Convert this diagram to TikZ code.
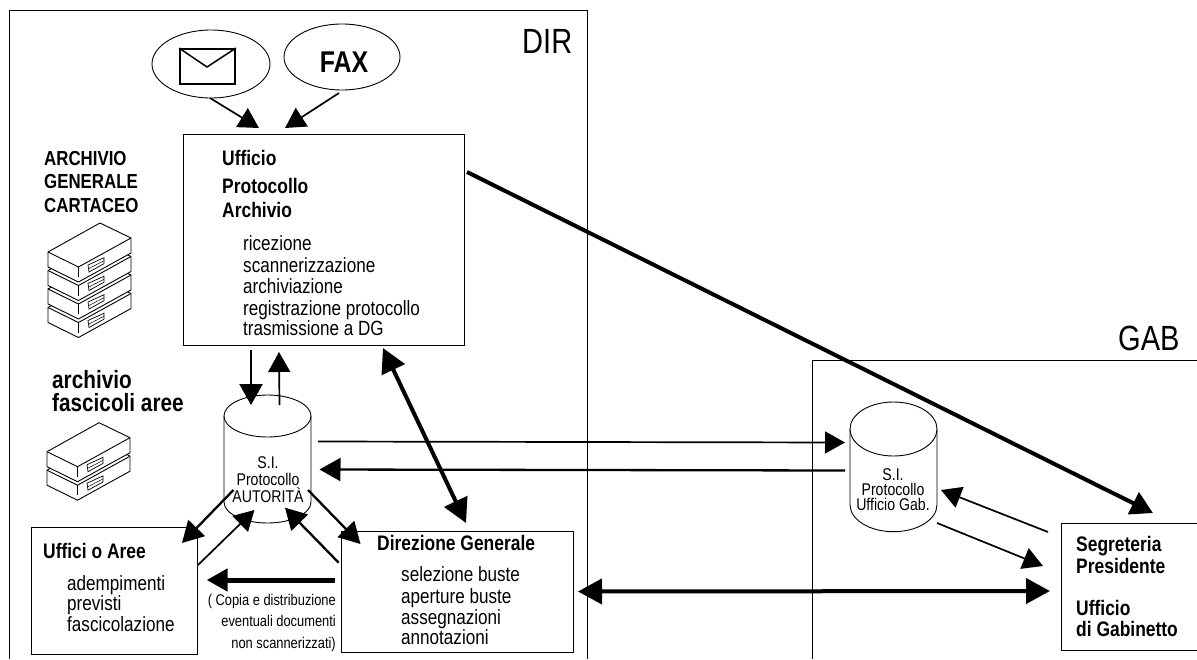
\documentclass[tikz,border=0pt]{standalone}
\usepackage{fontspec}
\setmainfont[FakeStretch=.83]{Liberation Sans}
\usetikzlibrary{arrows.meta,shapes.geometric}
\newcommand\srvunit[2]{%
  \begin{scope}[shift={(#1,#2)}]
    \draw[fill=white,line width=.9pt,line join=round] (0,0)--(0,15)--(30.5,30)--(83,1)--(83,-14)--(52,-29)--cycle;
    \draw[line width=.9pt,line join=round] (0,0)--(30.5,15)--(83,-14);
    \draw[line width=.9pt] (30.5,15)--(30.5,25);
    \draw[line width=.7pt,fill=white] (40,13)--(56,5.7)--(56,11.7)--(41,20)--cycle;
    \draw[line width=.5pt] (41,16.5)--(56,8.7);
  \end{scope}}
% centre x, top centre y, bottom centre y, y radius
\newcommand\cylshape[4]{%
  \draw[line width=.9pt,fill=white] (#1-43.5,#2) -- (#1-43.5,#3) arc[start angle=180,end angle=0,x radius=43.5,y radius=#4] -- (#1+43.5,#2);
  \draw[line width=.9pt,fill=white] (#1,#2) ellipse[x radius=43.5,y radius=#4];}
\tikzset{
  frame/.style={draw,line width=.9pt,inner sep=0,anchor=north west},
  oval/.style={draw,ellipse,line width=.9pt,inner sep=0},
  reg/.style={inner sep=0,anchor=base west,font=\fontsize{20.6}{24}\selectfont},
  hd/.style={inner sep=0,anchor=base west,font=\fontsize{21}{24}\selectfont\bfseries},
  hdb/.style={inner sep=0,anchor=base west,font=\fontsize{25}{26}\selectfont\bfseries},
  small/.style={inner sep=0,anchor=base,font=\fontsize{17}{20}\selectfont},
  note/.style={inner sep=0,anchor=base east,font=\fontsize{15.5}{18}\selectfont},
  big/.style={inner sep=0,anchor=base west,font=\fontsize{35}{38}\selectfont},
  thinar/.style={line width=1.7pt,-{Triangle[length=20pt,width=22pt]}},
  medar/.style={line width=2.3pt,-{Triangle[length=21pt,width=23pt]}},
  bigar/.style={line width=4pt,-{Triangle[length=22pt,width=24pt]}},
  bothar/.style={line width=4pt,{Triangle[length=24pt,width=25pt]}-{Triangle[length=24pt,width=25pt]}},
}
\begin{document}
\begin{tikzpicture}[x=1pt,y=-1pt]
\useasboundingbox (0,0) rectangle (1197,659);
\fill[white] (0,0) rectangle (1197,659);
% regions
\draw[line width=.9pt] (9.5,659)--(9.5,10)--(587,10)--(587,659);
\draw[line width=.9pt] (812,659)--(812,360)--(1197,360);
\node[big] (dirlab) at (522,53) {DIR};
\node[big] (gablab) at (1118,350) {GAB};
% sources
\node[oval,minimum width=118pt,minimum height=68pt] (mail) at (211,64) {};
\node[draw,line width=1.8pt,inner sep=0,minimum width=55pt,minimum height=35pt] (env) at (207.5,66.5) {};
\coordinate (flap) at (207,67);
\draw[line width=1.5pt] (env.north west)--(flap)--(env.north east);
\node[oval,minimum width=116pt,minimum height=66pt] (fax) at (342,57) {};
\node[inner sep=0,font=\fontsize{30}{32}\selectfont\bfseries] (faxt) at (344,62) {FAX};
% boxes
\node[frame,minimum width=281.5pt,minimum height=211pt] (uff) at (182.5,134) {};
\node[frame,minimum width=166.5pt,minimum height=127.5pt] (aree) at (30.6,526.7) {};
\node[frame,minimum width=232.5pt,minimum height=121pt] (dg) at (340.6,530.7) {};
\node[frame,minimum width=136pt,minimum height=127pt] (seg) at (1061,523) {};
% left archive labels
\node[hd,font=\fontsize{20.3}{24}\selectfont\bfseries] (a1) at (44,165) {ARCHIVIO};
\node[hd,font=\fontsize{20.3}{24}\selectfont\bfseries] (a2) at (44,188) {GENERALE};
\node[hd,font=\fontsize{20.3}{24}\selectfont\bfseries] (a3) at (44,212) {CARTACEO};
\srvunit{48}{307.5}\srvunit{48}{289}\srvunit{48}{270.5}\srvunit{48}{252}
\node[hdb] (b1) at (52,388) {archivio};
\node[hdb] (b2) at (52,411.7) {fascicoli aree};
\srvunit{47}{470.2}\srvunit{47}{451.7}
% ufficio text
\node[hd] (u1) at (222,165) {Ufficio};
\node[hd] (u2) at (222,193) {Protocollo};
\node[hd] (u3) at (222,217) {Archivio};
\node[reg] (l1) at (243,250.7) {ricezione};
\node[reg] (l2) at (243,272) {scannerizzazione};
\node[reg] (l3) at (243,293) {archiviazione};
\node[reg] (l4) at (243,315) {registrazione protocollo};
\node[reg] (l5) at (243,335) {trasmissione a DG};
% cylinders
\cylshape{267.5}{416}{502}{21}
\node[small] (c1) at (268,468) {S.I.};
\node[small] (c2) at (268,485) {Protocollo};
\node[small] (c3) at (268,502) {AUTORITÀ};
\cylshape{893.5}{429}{504.7}{27}
\node[small] (d1) at (893,480) {S.I.};
\node[small] (d2) at (893,495.7) {Protocollo};
\node[small] (d3) at (893,510.7) {Ufficio Gab.};
% aree text
\node[hd] (e0) at (43,558) {Uffici o Aree};
\node[reg] (e1) at (67,590) {adempimenti};
\node[reg] (e2) at (67,610) {previsti};
\node[reg] (e3) at (67,631) {fascicolazione};
% dg text
\node[hd] (g0) at (377,550.7) {Direzione Generale};
\node[reg] (g1) at (401,581.7) {selezione buste};
\node[reg] (g2) at (401,603) {aperture buste};
\node[reg] (g3) at (401,624) {assegnazioni};
\node[reg] (g4) at (401,644) {annotazioni};
% note
\node[note] (n1) at (336,605.7) {( Copia e distribuzione};
\node[note] (n2) at (336,626.7) {eventuali documenti};
\node[note] (n3) at (336,648) {non scannerizzati)};
% seg text
\node[hd] (s1) at (1076,551.7) {Segreteria};
\node[hd] (s2) at (1076,573) {Presidente};
\node[hd] (s3) at (1076,615) {Ufficio};
\node[hd] (s4) at (1076,636.7) {di Gabinetto};
% connector ends
\coordinate (mailout) at (210,98);   \coordinate (uffinA) at (259,128);
\coordinate (faxout) at (339,93);    \coordinate (uffinB) at (285,128);
\coordinate (uffdown) at (251,350);  \coordinate (cylinA) at (251,405);
\coordinate (cylupS) at (279.5,405); \coordinate (uffupE) at (279,352);
\coordinate (uffdg) at (383,348);    \coordinate (dguff) at (466,523);
\coordinate (cylR1) at (318,441.5);  \coordinate (cybL1) at (845,442.5);
\coordinate (cybL2) at (845,470.5);  \coordinate (cylR2) at (319.5,469.5);
\coordinate (cylAo) at (233.5,490);  \coordinate (areeI) at (182,543);
\coordinate (areeO) at (198,565);    \coordinate (cylAi) at (254.5,510);
\coordinate (dgO) at (338.7,562.7);  \coordinate (cylDi) at (285,507.7);
\coordinate (cylDo) at (308,490);    \coordinate (dgI) at (360.5,544);
\coordinate (copyS) at (335,580);    \coordinate (copyE) at (206.7,580);
\coordinate (uffpres) at (467,172);  \coordinate (segtop) at (1153,513);
\coordinate (segO) at (1048,532);    \coordinate (cybI) at (941,490);
\coordinate (cybO) at (937,523);     \coordinate (segI) at (1043,566);
\coordinate (dgR) at (578,591.5);    \coordinate (segL) at (1050,591);
% connectors
\draw[thinar] (mailout)--(uffinA);
\draw[thinar] (faxout)--(uffinB);
\draw[medar] (uffdown)--(cylinA);
\draw[thinar] (cylupS)--(uffupE);
\draw[bothar] (uffdg)--(dguff);
\draw[thinar] (cylR1)--(cybL1);
\draw[medar] (cybL2)--(cylR2);
\draw[medar] (cylAo)--(areeI);
\draw[thinar] (areeO)--(cylAi);
\draw[medar] (dgO)--(cylDi);
\draw[medar] (cylDo)--(dgI);
\draw[line width=5pt,-{Triangle[length=21pt,width=22pt]}] (copyS)--(copyE);
\draw[bigar] (uffpres)--(segtop);
\draw[thinar] (segO)--(cybI);
\draw[thinar] (cybO)--(segI);
\draw[bothar] (dgR)--(segL);
\end{tikzpicture}
\end{document}
